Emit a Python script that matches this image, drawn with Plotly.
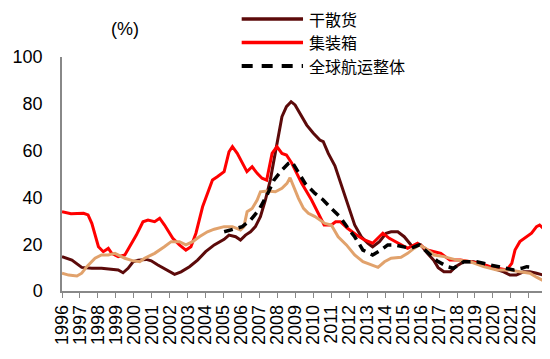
import plotly.graph_objects as go

# ---- data (year as decimal, value in %) ----
bulk_x = [1996.0, 1996.55, 1997.1, 1997.66, 1998.2, 1998.76, 1999.13, 1999.4, 1999.68, 1999.96,
          2000.24, 2000.7, 2000.97, 2001.34, 2001.8, 2002.27, 2002.63, 2003.1, 2003.55, 2004.0,
          2004.48, 2004.84, 2005.03, 2005.3, 2005.67, 2005.94, 2006.22, 2006.5, 2006.77, 2007.05,
          2007.33, 2007.6, 2007.9, 2008.1, 2008.25, 2008.5, 2008.76, 2008.98, 2009.26, 2009.63,
          2010.0, 2010.36, 2010.55, 2010.83, 2011.2, 2011.56, 2011.93, 2012.3, 2012.67, 2013.04,
          2013.3, 2013.68, 2014.05, 2014.33, 2014.7, 2015.06, 2015.52, 2015.98, 2016.35, 2016.7,
          2016.95, 2017.27, 2017.64, 2017.92, 2018.37, 2018.93, 2019.48, 2020.03, 2020.6, 2020.95,
          2021.3, 2021.7, 2022.06, 2022.43, 2022.8]
bulk_y = [14.7, 13.2, 10.1, 9.7, 9.7, 9.3, 9.0, 7.8, 9.7, 12.5,
          13.2, 13.5, 12.9, 11.1, 9.0, 7.1, 8.2, 10.4, 13.2, 16.8,
          19.7, 21.1, 22.1, 23.9, 23.2, 21.8, 23.9, 25.3, 27.5, 31.8,
          38.9, 47.4, 60.3, 68.8, 74.5, 78.8, 80.9, 79.5, 75.9, 70.9,
          67.4, 64.5, 63.8, 58.8, 53.5, 45.0, 36.0, 28.2, 23.2, 20.4,
          18.9, 21.1, 24.7, 25.3, 25.3, 23.2, 18.9, 19.7, 16.1, 13.2,
          10.0, 8.2, 8.2, 10.4, 12.5, 12.5, 11.1, 9.7, 8.2, 6.8,
          6.8, 8.2, 8.2, 7.6, 6.8]

box_x = [1996.0, 1996.5, 1997.2, 1997.45, 1997.66, 1998.03, 1998.3, 1998.58, 1998.77, 1999.13,
         1999.5, 1999.78, 2000.14, 2000.51, 2000.79, 2001.16, 2001.44, 2001.71, 2002.17, 2002.54,
         2002.9, 2003.18, 2003.46, 2003.83, 2004.1, 2004.38, 2004.65, 2005.03, 2005.3, 2005.49,
         2005.76, 2006.04, 2006.3, 2006.59, 2006.87, 2007.14, 2007.4, 2007.7, 2007.97, 2008.25,
         2008.5, 2008.8, 2009.35, 2009.9, 2010.28, 2010.6, 2011.0, 2011.24, 2011.5, 2011.9,
         2012.4, 2012.85, 2013.3, 2013.7, 2013.87, 2014.23, 2014.7, 2015.25, 2015.8, 2016.35,
         2017.1, 2017.6, 2018.2, 2018.75, 2019.3, 2019.85, 2020.4, 2020.77, 2021.05, 2021.23,
         2021.5, 2021.88, 2022.15, 2022.43, 2022.6, 2022.8]
box_y = [33.9, 33.0, 33.2, 32.5, 28.9, 18.9, 16.8, 18.2, 16.1, 14.7,
         15.4, 18.9, 23.9, 29.6, 30.3, 29.6, 31.1, 28.2, 22.5, 19.7,
         17.5, 18.9, 24.7, 36.0, 41.7, 47.4, 48.8, 51.0, 59.5, 61.7,
         58.8, 54.6, 51.0, 53.1, 50.3, 48.2, 47.4, 58.8, 61.7, 58.8,
         58.1, 54.6, 46.0, 38.9, 33.2, 28.2, 28.2, 29.6, 29.6, 26.8,
         23.9, 21.8, 20.4, 23.2, 24.7, 22.5, 20.4, 18.2, 20.4, 17.5,
         16.1, 13.2, 13.2, 12.5, 11.8, 10.4, 9.7, 9.0, 11.8, 17.5,
         21.1, 23.2, 24.7, 27.5, 28.2, 26.8]

tanker_x = [1996.0, 1996.37, 1996.83, 1997.1, 1997.38, 1997.84, 1998.2, 1998.58, 1998.95, 1999.22,
            1999.5, 1999.96, 2000.33, 2000.6, 2001.16, 2001.7, 2002.08, 2002.54, 2002.9, 2003.28,
            2003.65, 2004.1, 2004.48, 2005.03, 2005.49, 2005.94, 2006.13, 2006.31, 2006.59, 2006.87,
            2007.05, 2007.42, 2007.88, 2008.25, 2008.53, 2008.7, 2008.9, 2009.17, 2009.45, 2009.72,
            2010.09, 2010.36, 2010.64, 2011.0, 2011.38, 2011.84, 2012.3, 2012.76, 2013.22, 2013.6,
            2013.96, 2014.33, 2014.88, 2015.25, 2015.6, 2015.9, 2016.26, 2016.72, 2017.27, 2018.0,
            2018.75, 2019.48, 2020.22, 2020.95, 2021.5, 2022.06, 2022.43, 2022.8]
tanker_y = [7.6, 6.8, 6.4, 7.6, 10.4, 14.0, 15.4, 15.4, 16.1, 15.0,
            14.0, 12.9, 12.5, 14.0, 16.1, 18.9, 21.1, 21.1, 19.7, 21.1,
            23.2, 25.3, 26.4, 27.5, 27.5, 26.1, 27.5, 33.9, 35.3, 38.9,
            42.4, 42.7, 42.4, 43.9, 46.0, 48.4, 44.6, 39.6, 35.3, 33.2,
            31.8, 30.3, 28.9, 28.2, 23.2, 19.7, 15.4, 12.5, 11.1, 10.1,
            12.5, 14.0, 14.4, 16.1, 18.2, 19.7, 18.2, 15.4, 14.7, 13.2,
            12.5, 10.4, 9.0, 9.0, 8.2, 7.6, 5.9, 4.4]

total_x = [2005.03, 2005.49, 2006.04, 2006.5, 2006.96, 2007.42, 2007.8, 2008.25, 2008.62, 2008.8,
           2009.08, 2009.54, 2010.09, 2010.55, 2011.0, 2011.47, 2011.93, 2012.3, 2012.76, 2013.3,
           2013.77, 2014.14, 2014.5, 2014.97, 2015.43, 2015.9, 2016.35, 2016.9, 2017.46, 2017.8,
           2018.37, 2019.1, 2019.85, 2020.6, 2021.15, 2021.6, 2021.88, 2022.25]
total_y = [25.3, 26.4, 27.5, 30.3, 34.6, 41.0, 47.4, 51.7, 54.6, 55.3,
           51.7, 46.0, 41.7, 38.9, 35.3, 31.8, 26.8, 23.2, 17.5, 15.4,
           17.5, 19.7, 19.7, 18.9, 18.2, 19.7, 16.8, 12.8, 10.4, 9.7,
           12.5, 12.5, 11.1, 9.7, 9.0, 9.7, 10.4, 10.1]

years = list(range(1996, 2023))
year_labels = [str(y) for y in years]
y_ticks = [0, 20, 40, 60, 80, 100]

legend_names = ["干散货", "集装箱", "全球航运整体"]
C_BULK, C_BOX, C_TANK, C_TOTAL = "#5C0A0A", "#FF0000", "#E1A26C", "#000000"

NUM_FONT = "Liberation Sans, Arial, sans-serif"
CJK_FONT = "Noto Sans CJK SC, sans-serif"

fig = go.Figure()
fig.add_trace(go.Scatter(x=bulk_x, y=bulk_y, mode="lines", name=legend_names[0],
                         line=dict(color=C_BULK, width=3), showlegend=False))
fig.add_trace(go.Scatter(x=box_x, y=box_y, mode="lines", name=legend_names[1],
                         line=dict(color=C_BOX, width=3), showlegend=False))
fig.add_trace(go.Scatter(x=tanker_x, y=tanker_y, mode="lines", name="油轮",
                         line=dict(color=C_TANK, width=3), showlegend=False))
fig.add_trace(go.Scatter(x=total_x, y=total_y, mode="lines", name=legend_names[2],
                         line=dict(color=C_TOTAL, width=3.5, dash="9px,6px"), showlegend=False))

# manual legend (paper coordinates)
LEG_FONT = 16
row_step = 0.1
leg_mid = 1.062
leg_rows = [leg_mid + row_step, leg_mid, leg_mid - row_step]
leg_colors = [C_BULK, C_BOX, C_TOTAL]
leg_dash = ["solid", "solid", "11px,9px"]
for name, yy, col, dsh in zip(legend_names, leg_rows, leg_colors, leg_dash):
    fig.add_shape(type="line", xref="paper", yref="paper", x0=0.372, x1=0.499, y0=yy, y1=yy,
                  line=dict(color=col, width=4 if dsh != "solid" else 3.5, dash=dsh))
    fig.add_annotation(text=name, xref="paper", yref="paper", x=0.508, y=yy,
                       xanchor="left", yanchor="middle", showarrow=False,
                       font=dict(family=CJK_FONT, size=LEG_FONT, color="#000000"))

fig.add_annotation(text="(%)", xref="paper", yref="paper", x=0.13, y=1.12,
                   xanchor="center", yanchor="middle", showarrow=False,
                   font=dict(family=NUM_FONT, size=18, color="#000000"))

# the page body adds an 8px offset; size the figure so the plot lands where the reference has it
fig.update_layout(
    width=542, height=351,
    margin=dict(l=50, r=5, t=49, b=68),
    paper_bgcolor="white", plot_bgcolor="white",
    showlegend=False,
    xaxis=dict(range=[1996, 2022.9], tickmode="array", tickvals=years, ticktext=year_labels,
               tickangle=-90, ticks="outside", ticklen=5, tickcolor="#888888",
               showline=True, linecolor="#888888", linewidth=1.5, showgrid=False, zeroline=False,
               tickfont=dict(family=NUM_FONT, size=18, color="#000000")),
    yaxis=dict(range=[0, 100], tickmode="array", tickvals=y_ticks,
               ticks="", showline=True, linecolor="#888888", linewidth=1.5,
               showgrid=False, zeroline=False, ticklabelstandoff=14,
               tickfont=dict(family=NUM_FONT, size=18, color="#000000")),
)

fig.write_html("out.html")
